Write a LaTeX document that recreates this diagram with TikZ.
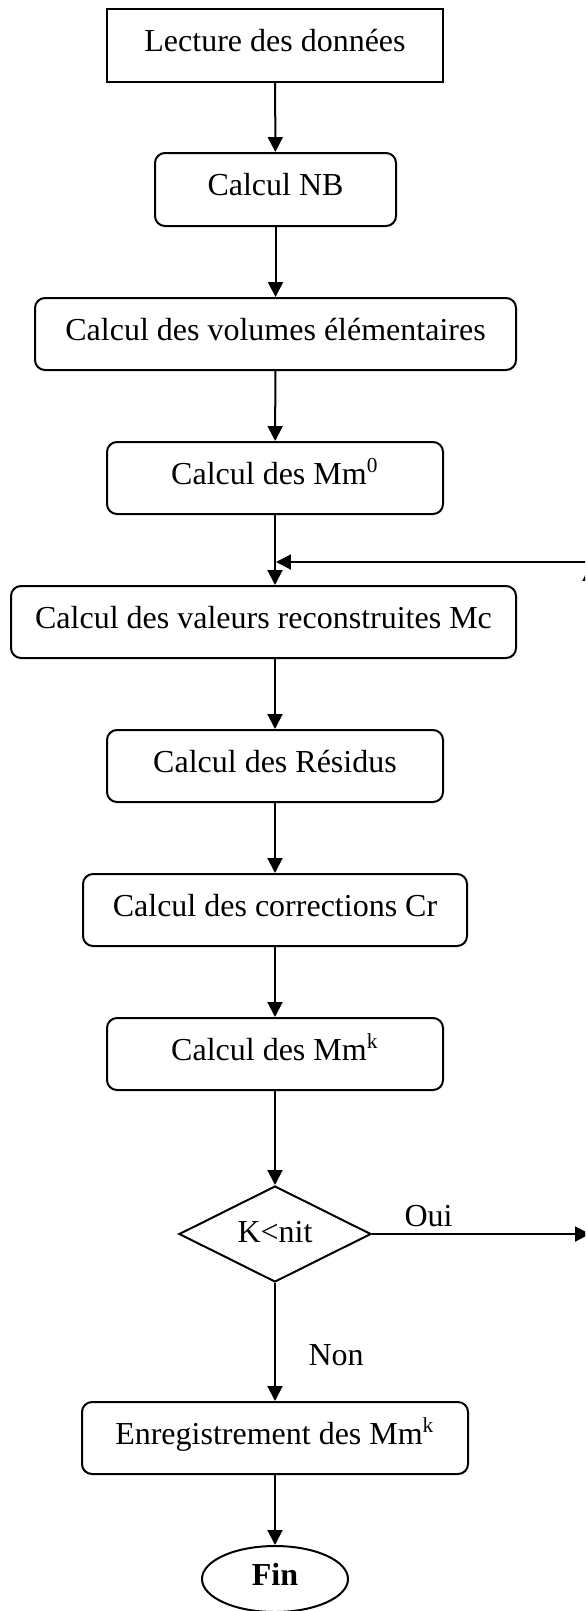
\documentclass[tikz,border=0pt]{standalone}
\usepackage{fontspec}
\setmainfont{Liberation Serif}
\usetikzlibrary{arrows.meta,shapes.geometric}
\def\U{0.375pt}
\begin{document}
\begin{tikzpicture}[x=0.375pt,y=-0.375pt,
  every node/.style={font=\fontsize{12}{14}\selectfont},
  base/.style={draw,line width=0.75pt,inner sep=0pt,text height=0.7em,text depth=0.25em},
  sqbox/.style={base,rectangle},
  rbox/.style={base,rectangle,rounded corners=3.75pt},
  decision/.style={base,diamond,aspect=2},
  term/.style={base,ellipse,font=\fontsize{12}{14}\selectfont\bfseries},
  lbl/.style={inner sep=0pt},
  arr/.style={line width=0.75pt,-{Triangle[length=5.6pt,width=5.6pt]}},
  ln/.style={line width=0.75pt}]
\clip (0,0) rectangle (585,1611);
\fill[white] (0,0) rectangle (585,1611);
\node[sqbox,minimum width={336*\U},minimum height={73*\U}] (lect) at (275,45.5) {Lecture des données};
\node[rbox,minimum width={241*\U},minimum height={73*\U}] (nb) at (275.5,189.5) {Calcul NB};
\node[rbox,minimum width={481*\U},minimum height={72*\U}] (vol) at (275.5,334) {Calcul des volumes élémentaires};
\node[rbox,minimum width={336*\U},minimum height={72*\U}] (mm0) at (275,478) {Calcul des Mm\textsuperscript{0}};
\node[rbox,minimum width={505*\U},minimum height={72*\U}] (val) at (263.5,622) {Calcul des valeurs reconstruites Mc};
\node[rbox,minimum width={336*\U},minimum height={72*\U}] (res) at (275,766) {Calcul des Résidus};
\node[rbox,minimum width={384*\U},minimum height={72*\U}] (cr) at (275,910) {Calcul des corrections Cr};
\node[rbox,minimum width={336*\U},minimum height={72*\U}] (mmk) at (275,1054) {Calcul des Mm\textsuperscript{k}};
\node[base,diamond,minimum width={192*\U},minimum height={96*\U},text height=,text depth=,inner sep=0pt] (dec) at (275,1234) {};
\node[lbl] (kn) at (275,1232) {K<nit};
\node[rbox,minimum width={386*\U},minimum height={72*\U}] (enr) at (275,1438) {Enregistrement des Mm\textsuperscript{k}};
\node[term,minimum width={146*\U},minimum height={66*\U}] (fin) at (275,1579) {Fin};
\node[lbl,anchor=base west] (oui) at (404,1226) {Oui};
\node[lbl,anchor=west] (non) at (308,1355) {Non};
\coordinate (rb) at (590,1234);
\coordinate (rt) at (590,566);
\coordinate (rc) at (591,562);
\coordinate (jn) at (276,562);
\draw[arr] (lect) -- (nb);
\draw[arr] (nb) -- (vol);
\draw[arr] (vol) -- (mm0);
\draw[arr] (mm0.south) -- (mm0.south |- val.north);
\draw[arr] (res.north |- val.south) -- (res.north);
\draw[arr] (res) -- (cr);
\draw[arr] (cr) -- (mmk);
\draw[arr] (mmk) -- (dec);
\draw[arr] (dec) -- (enr);
\draw[arr] (enr) -- (fin);
\draw[arr] (dec.east) -- (rb);
\draw[arr] (rb) -- (rt);
\draw[arr] (rc) -- (jn);
\end{tikzpicture}
\end{document}
